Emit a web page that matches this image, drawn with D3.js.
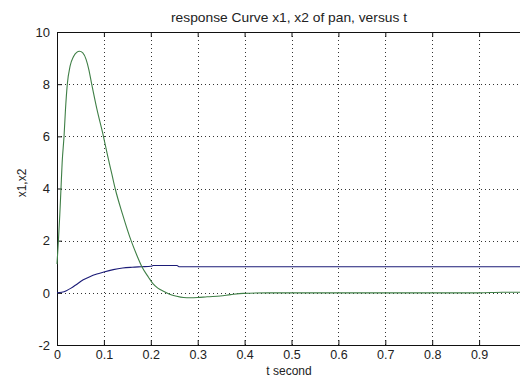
<!DOCTYPE html>
<html><head><meta charset="utf-8">
<script src="https://cdn.jsdelivr.net/npm/d3@7"></script>
<style>
html,body{margin:0;padding:0;background:#fff;}
svg{display:block;}
text{font-family:"Liberation Sans",Arial,sans-serif;fill:#222;}
</style></head>
<body>
<svg id="c" width="520" height="376"></svg>
<script>
const title = "response Curve x1, x2 of pan, versus t";
const xLabel = "t second";
const yLabel = "x1,x2";
const xTicks = [0,0.1,0.2,0.3,0.4,0.5,0.6,0.7,0.8,0.9,1];
const xTickLabels = ["0","0.1","0.2","0.3","0.4","0.5","0.6","0.7","0.8","0.9",""];
const yTicks = [-2,0,2,4,6,8,10];
const yTickLabels = ["-2","0","2","4","6","8","10"];

const t1 = [0,0.01,0.02,0.03,0.04,0.056,0.07,0.085,0.1,0.12,0.14,0.16,0.18,0.2,0.204,0.206,0.256,0.26,0.3,0.5,0.7,1.0];
const x1 = [0,0.02,0.08,0.18,0.3,0.5,0.62,0.72,0.8,0.89,0.95,0.98,1.0,1.02,1.04,1.05,1.05,1.0,1.0,1.0,1.0,1.0];

const t2 = [0,0.003,0.006,0.0085,0.011,0.015,0.018,0.022,0.028,0.035,0.042,0.048,0.055,0.062,0.068,0.074,0.085,0.099,0.108,0.117,0.124,0.14,0.158,0.17,0.181,0.195,0.205,0.215,0.227,0.24,0.255,0.27,0.284,0.3,0.32,0.348,0.37,0.397,0.45,0.5,0.6,0.7,0.8,0.9,0.95,1.0];
const x2 = [1.1,2,3,4,5,6,7,8,8.7,9.05,9.22,9.26,9.2,8.95,8.55,8.0,7.05,6.0,5.25,4.55,4.0,3.0,2.0,1.45,1.0,0.6,0.34,0.18,0.06,-0.05,-0.13,-0.18,-0.19,-0.18,-0.15,-0.12,-0.07,-0.02,0,0,0,0,0,0,0.02,0.02];

const svg = d3.select("#c");
const L = 57, R = 526, T = 32, B = 345;
const x = d3.scaleLinear().domain([0,1]).range([L,R]);
const y = d3.scaleLinear().domain([-2,10]).range([B,T]);

// grid
const grid = svg.append("g").attr("stroke","#333").attr("stroke-width",1).attr("stroke-dasharray","1,3");
grid.selectAll("line.vx").data(xTicks.slice(1,-1)).join("line")
  .attr("x1",d=>Math.round(x(d))+0.5).attr("x2",d=>Math.round(x(d))+0.5).attr("y1",T).attr("y2",B);
grid.selectAll("line.hy").data(yTicks.slice(1,-1)).join("line")
  .attr("y1",d=>Math.round(y(d))+0.5).attr("y2",d=>Math.round(y(d))+0.5).attr("x1",L).attr("x2",R);

// axes
const xAxis = d3.axisBottom(x).tickValues(xTicks).tickFormat((d,i)=>xTickLabels[i]).tickSizeInner(-5).tickSizeOuter(0).tickPadding(5);
const gx = svg.append("g").attr("transform",`translate(0,${B})`).call(xAxis);
const yAxis = d3.axisLeft(y).tickValues(yTicks).tickFormat((d,i)=>yTickLabels[i]).tickSizeInner(-5).tickSizeOuter(0).tickPadding(7);
const gy = svg.append("g").attr("transform",`translate(${L},0)`).call(yAxis);
const gt = svg.append("g").attr("transform",`translate(0,${T})`).call(d3.axisTop(x).tickValues(xTicks).tickFormat("").tickSizeInner(-5).tickSizeOuter(0));
[gx,gy,gt].forEach(g=>{
  g.select(".domain").attr("stroke","#111");
  g.selectAll(".tick line").attr("stroke","#111");
  g.selectAll(".tick text").attr("font-size",13).attr("fill","#222").attr("font-family","Liberation Sans, Arial, sans-serif");
});
gx.selectAll(".tick text").attr("font-size",12.5);

// lines
const lineGen = d3.line().x(d=>x(d[0])).y(d=>y(d[1])).curve(d3.curveMonotoneX);
svg.append("path").datum(t1.map((t,i)=>[t,x1[i]])).attr("d",lineGen)
  .attr("fill","none").attr("stroke","#1c1c78").attr("stroke-width",1.1);
svg.append("path").datum(t2.map((t,i)=>[t,x2[i]])).attr("d",lineGen)
  .attr("fill","none").attr("stroke","#3f7f46").attr("stroke-width",1.1);

// texts
svg.append("text").attr("x",289).attr("y",22).attr("text-anchor","middle").attr("font-size",13)
  .attr("textLength",236).attr("lengthAdjust","spacingAndGlyphs").text(title);
svg.append("text").attr("x",289).attr("y",374.5).attr("text-anchor","middle").attr("font-size",12).text(xLabel);
svg.append("text").attr("transform","translate(26,183) rotate(-90)").attr("text-anchor","middle").attr("font-size",12).text(yLabel);
</script>
</body></html>
